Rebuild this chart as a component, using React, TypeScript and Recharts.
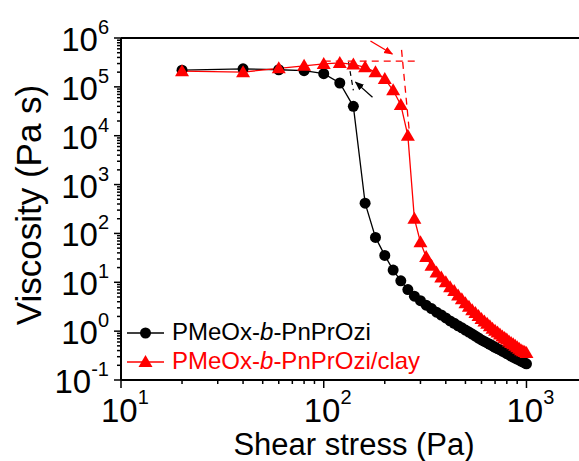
import React from 'react';
import { LineChart, Line, XAxis, YAxis, ReferenceLine } from 'recharts';

// shear stress sweep, Pa
const stress = [
  20, 40, 60, 80, 100, 120, 140, 160, 180, 200, 220, 240, 260, 280, 300, 320, 340, 360, 380, 400,
  420, 440, 460, 480, 500, 520, 540, 560, 580, 600, 620, 640, 660, 680, 700, 720, 740, 760, 780, 800,
  820, 840, 860, 880, 900, 920, 940, 960, 980, 1000,
];

// viscosity, Pa s
const viscosityNeat = [
  2.19e5, 2.34e5, 2.24e5, 2.14e5, 1.86e5, 1.2e5, 4.0e4, 417, 83, 35.5, 17.8, 10.7, 7.1, 5.2, 4.2,
  3.4, 2.9, 2.45, 2.14, 1.86, 1.62, 1.45, 1.29, 1.17, 1.05, 0.955, 0.871, 0.794, 0.724, 0.661,
  0.617, 0.575, 0.537, 0.501, 0.468, 0.437, 0.417, 0.389, 0.372, 0.347, 0.331, 0.309, 0.295,
  0.282, 0.269, 0.257, 0.245, 0.234, 0.224, 0.214,
];
const viscosityClay = [
  2.09e5, 2.0e5, 2.4e5, 2.69e5, 2.95e5, 3.09e5, 2.88e5, 2.51e5, 2.0e5, 1.45e5, 8.5e4, 4.27e4,
  1.0e4, 200, 66, 33, 21.9, 15.8, 12.6, 10, 7.94, 6.61, 5.37, 4.47, 3.72, 3.16, 2.69, 2.34, 2.04,
  1.78, 1.58, 1.41, 1.26, 1.12, 1.02, 0.933, 0.851, 0.776, 0.724, 0.676, 0.617, 0.575, 0.537,
  0.501, 0.468, 0.437, 0.407, 0.389, 0.372, 0.355,
];

const xMajor = [10, 100, 1000];
const yMajor = [0.1, 1, 10, 100, 1e3, 1e4, 1e5, 1e6];
const minorSteps = [2, 3, 4, 5, 6, 7, 8, 9];

const withMinors = (majors: number[]) => [
  ...majors,
  ...majors.slice(0, -1).flatMap((m) => minorSteps.map((s) => m * s)),
];
const xTicks = withMinors(xMajor);
const yTicks = withMinors(yMajor);

const data = stress.map((s, i) => ({ stress: s, neat: viscosityNeat[i], clay: viscosityClay[i] }));

const FONT = '"Liberation Sans", Arial, sans-serif';
const RED = '#ff0000';

const isMajor = (v: number, majors: number[]) => majors.some((m) => Math.abs(v / m - 1) < 1e-6);
const expOf = (v: number) => Math.round(Math.log10(v));

function XTick({ x, y, payload }: any) {
  const major = isMajor(payload.value, xMajor);
  return (
    <g>
      <line x1={x} x2={x} y1={y} y2={y + (major ? 8 : 4)} stroke="#000" strokeWidth={1.5} />
      {major && (
        <text x={x - 20} y={y + 42} fontFamily={FONT} fill="#000">
          <tspan fontSize={33}>10</tspan>
          <tspan fontSize={20} dy={-18}>{expOf(payload.value)}</tspan>
        </text>
      )}
    </g>
  );
}

function YTick({ x, y, payload }: any) {
  const major = isMajor(payload.value, yMajor);
  return (
    <g>
      <line x1={x} x2={x - (major ? 7 : 4)} y1={y} y2={y} stroke="#000" strokeWidth={1.5} />
      {major && (
        <text x={x - 12} y={y + 13} textAnchor="end" fontFamily={FONT} fill="#000">
          <tspan fontSize={33}>10</tspan>
          <tspan fontSize={20} dy={-17}>{expOf(payload.value)}</tspan>
        </text>
      )}
    </g>
  );
}

const circleDot = ({ cx, cy, index }: any) => (
  <circle key={`n${index}`} cx={cx} cy={cy} r={5.5} fill="#000" />
);
const triangleDot = ({ cx, cy, index }: any) => (
  <path
    key={`c${index}`}
    d={`M${cx},${cy - 7} L${cx - 7},${cy + 5} L${cx + 7},${cy + 5} Z`}
    fill={RED}
  />
);

export default function App() {
  return (
    <div style={{ position: 'absolute', left: 0, top: 0, width: 579, height: 461, overflow: 'hidden', background: '#fff' }}>
      <svg width={0} height={0} style={{ position: 'absolute' }}>
        <defs>
          <marker id="headRed" viewBox="0 0 10 10" refX="9" refY="5" markerWidth="7" markerHeight="7" orient="auto">
            <path d="M0,1 L10,5 L0,9 Z" fill={RED} />
          </marker>
          <marker id="headBlack" viewBox="0 0 10 10" refX="9" refY="5" markerWidth="7" markerHeight="7" orient="auto">
            <path d="M0,1 L10,5 L0,9 Z" fill="#000" />
          </marker>
        </defs>
      </svg>
      <LineChart width={579} height={461} data={data} margin={{ top: 38, right: 0, bottom: 0, left: 0 }}>
        <XAxis
          dataKey="stress"
          type="number"
          scale="log"
          domain={[10, 1816]}
          allowDataOverflow
          ticks={xTicks}
          interval={0}
          tickSize={0}
          tickMargin={0}
          tickLine={false}
          tick={<XTick />}
          axisLine={{ stroke: '#000', strokeWidth: 2 }}
          height={81}
        />
        <YAxis
          type="number"
          scale="log"
          domain={[0.1, 1e6]}
          allowDataOverflow
          ticks={yTicks}
          interval={0}
          tickSize={0}
          tickMargin={0}
          tickLine={false}
          tick={<YTick />}
          axisLine={{ stroke: '#000', strokeWidth: 2 }}
          width={121}
        />
        <ReferenceLine y={1e6} stroke="#000" strokeWidth={2} ifOverflow="visible" />

        {/* tangent construction for the yield points */}
        <ReferenceLine
          segment={[{ x: 100, y: 3.37e5 }, { x: 285, y: 3.37e5 }]}
          stroke={RED}
          strokeWidth={1.3}
          strokeDasharray="7 5"
        />
        <ReferenceLine
          segment={[{ x: 242, y: 5.7e5 }, { x: 264, y: 1.3e4 }]}
          stroke={RED}
          strokeWidth={1.3}
          strokeDasharray="7 5"
        />
        <ReferenceLine
          segment={[{ x: 132.5, y: 3.2e5 }, { x: 140, y: 8.5e4 }]}
          stroke="#000"
          strokeWidth={1.2}
          strokeDasharray="5 4"
        />
        <ReferenceLine
          segment={[{ x: 170, y: 8.67e5 }, { x: 218, y: 4.7e5 }]}
          stroke={RED}
          strokeWidth={1.3}
          markerEnd="url(#headRed)"
        />
        <ReferenceLine
          segment={[{ x: 174, y: 6.15e4 }, { x: 143.5, y: 1.25e5 }]}
          stroke="#000"
          strokeWidth={1.3}
          markerEnd="url(#headBlack)"
        />

        <Line dataKey="neat" stroke="#000" strokeWidth={1.3} dot={circleDot} isAnimationActive={false} />
        <Line dataKey="clay" stroke={RED} strokeWidth={1.3} dot={triangleDot} isAnimationActive={false} />
      </LineChart>

      <svg width={579} height={461} style={{ position: 'absolute', left: 0, top: 0, pointerEvents: 'none' }}>
        <text
          transform="translate(41,205) rotate(-90)"
          textAnchor="middle"
          fontFamily={FONT}
          fontSize={35}
          fill="#000"
        >
          Viscosity (Pa s)
        </text>
        <text x={354} y={455} textAnchor="middle" fontFamily={FONT} fontSize={31} fill="#000">
          Shear stress (Pa)
        </text>

        <line x1={127} x2={164} y1={333} y2={333} stroke="#000" strokeWidth={1.3} />
        <circle cx={145.5} cy={333} r={5.5} fill="#000" />
        <text x={172} y={340} fontFamily={FONT} fontSize={24} fill="#000">
          PMeOx-<tspan fontStyle="italic">b</tspan>-PnPrOzi
        </text>

        <line x1={127} x2={164} y1={362} y2={362} stroke={RED} strokeWidth={1.3} />
        <path d="M145.5,355 L138.5,367 L152.5,367 Z" fill={RED} />
        <text x={172} y={369} fontFamily={FONT} fontSize={24} fill={RED}>
          PMeOx-<tspan fontStyle="italic">b</tspan>-PnPrOzi/clay
        </text>
      </svg>
    </div>
  );
}
